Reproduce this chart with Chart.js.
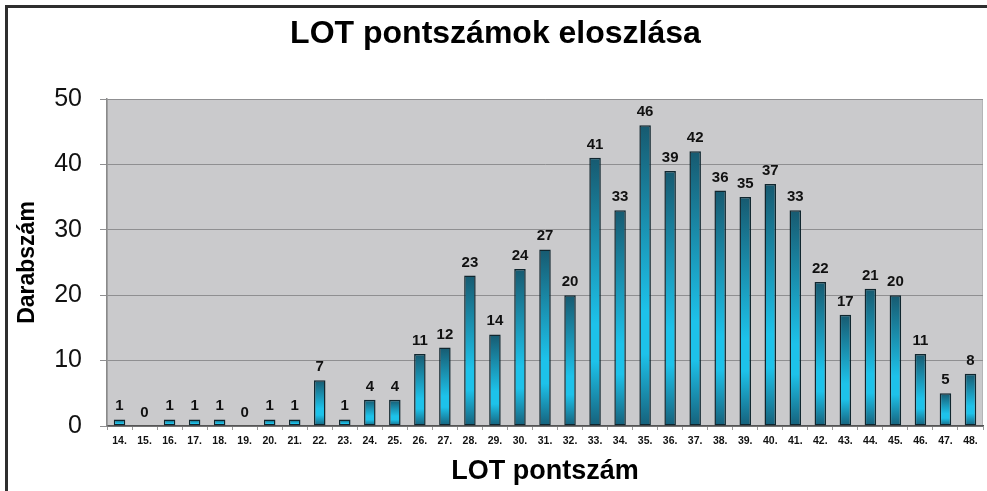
<!DOCTYPE html>
<html>
<head>
<meta charset="utf-8">
<script src="https://cdn.jsdelivr.net/npm/chart.js@4/dist/chart.umd.min.js"></script>
<style>
  html, body { margin: 0; padding: 0; background: #fff; }
  #wrap { position: relative; width: 987px; height: 491px; overflow: hidden; }
  #frame {
    position: absolute; left: 5px; top: 5px; width: 1100px; height: 600px;
    border-left: 3px solid #2e2e2e; border-top: 3px solid #2e2e2e;
  }
  #chart { position: absolute; left: 0; top: 0; }
</style>
</head>
<body>
<div id="wrap">
  <div id="frame"></div>
  <canvas id="chart" width="987" height="491"></canvas>
</div>
<script>
  const scores = ['14.', '15.', '16.', '17.', '18.', '19.', '20.', '21.', '22.', '23.', '24.', '25.',
    '26.', '27.', '28.', '29.', '30.', '31.', '32.', '33.', '34.', '35.', '36.', '37.', '38.',
    '39.', '40.', '41.', '42.', '43.', '44.', '45.', '46.', '47.', '48.'];
  const counts = [1, 0, 1, 1, 1, 0, 1, 1, 7, 1, 4, 4,
    11, 12, 23, 14, 24, 27, 20, 41, 33, 46, 39, 42, 36,
    35, 37, 33, 22, 17, 21, 20, 11, 5, 8];
  const yTicks = [0, 10, 20, 30, 40, 50];

  const fontFamily = '"Liberation Sans", Arial, sans-serif';

  // vertical gradient for each bar, dark top -> bright cyan -> dark bottom
  function barFill(context) {
    const chart = context.chart;
    const y = chart.scales.y;
    if (!chart.chartArea || !y) return '#1cc0e8';
    const top = y.getPixelForValue(counts[context.dataIndex]);
    const bottom = y.getPixelForValue(0);
    if (bottom - top < 2) return '#1cc0e8';
    const g = chart.ctx.createLinearGradient(0, top, 0, bottom);
    g.addColorStop(0, '#175a70');
    g.addColorStop(0.62, '#1dc2ea');
    g.addColorStop(0.76, '#1dc2ea');
    g.addColorStop(1, '#16607a');
    return g;
  }

  const plotBackground = {
    id: 'plotBackground',
    beforeDraw(chart) {
      const { ctx, chartArea: a } = chart;
      ctx.save();
      ctx.fillStyle = '#cacacc';
      ctx.fillRect(a.left, a.top, a.right - a.left, a.bottom - a.top);
      ctx.strokeStyle = '#b4b4b6';
      ctx.lineWidth = 1;
      ctx.strokeRect(a.left + 0.5, a.top + 0.5, a.right - a.left - 1, a.bottom - a.top);
      ctx.restore();
    }
  };

  const valueLabels = {
    id: 'valueLabels',
    afterDatasetsDraw(chart) {
      const { ctx } = chart;
      const meta = chart.getDatasetMeta(0);
      ctx.save();
      ctx.font = 'bold 15px ' + fontFamily;
      ctx.fillStyle = '#111';
      ctx.textAlign = 'center';
      ctx.textBaseline = 'alphabetic';
      meta.data.forEach((bar, i) => {
        ctx.fillText(String(counts[i]), bar.x, bar.y - 9);
      });
      ctx.restore();
    }
  };

  new Chart(document.getElementById('chart'), {
    type: 'bar',
    data: {
      labels: scores,
      datasets: [{
        data: counts,
        backgroundColor: barFill,
        borderColor: '#10262e',
        borderWidth: 1.5,
        borderSkipped: false,
        barPercentage: 0.46,
        categoryPercentage: 1
      }]
    },
    options: {
      responsive: false,
      animation: false,
      devicePixelRatio: 1,
      layout: { padding: { left: 8, right: 4, top: 0, bottom: 0 } },
      plugins: {
        legend: { display: false },
        tooltip: { enabled: false },
        title: {
          display: true,
          text: 'LOT pontszámok eloszlása',
          color: '#000',
          font: { family: fontFamily, size: 32, weight: 'bold', lineHeight: 1.2 },
          padding: { top: 15, bottom: 45.6 }
        }
      },
      scales: {
        x: {
          grid: {
            display: true,
            drawOnChartArea: false,
            drawTicks: true,
            tickLength: 4,
            color: '#9a9a9a',
            offset: true
          },
          border: { display: true, color: '#555', width: 1.5 },
          ticks: {
            color: '#111',
            padding: 5,
            autoSkip: false,
            maxRotation: 0,
            font: { family: fontFamily, size: 10.5, weight: 'bold' }
          },
          title: {
            display: true,
            text: 'LOT pontszám',
            color: '#000',
            font: { family: fontFamily, size: 27, weight: 'bold', lineHeight: 1.2 },
            padding: { top: 0, bottom: 3 }
          },
          afterFit(scale) { scale.height = 65; }
        },
        y: {
          min: 0,
          max: 50,
          afterBuildTicks(scale) { scale.ticks = yTicks.map((v) => ({ value: v })); },
          grid: {
            color: '#8f8f91',
            lineWidth: 1,
            tickLength: 7,
            drawTicks: true
          },
          border: { display: true, color: '#8a8a8a', width: 1.5 },
          ticks: {
            color: '#111',
            padding: 18,
            font: { family: fontFamily, size: 25 }
          },
          title: {
            display: true,
            text: 'Darabszám',
            color: '#000',
            font: { family: fontFamily, size: 23, weight: 'bold', lineHeight: 1.2 },
            padding: { top: 6, bottom: 0 }
          },
          afterFit(scale) { scale.width = 99; }
        }
      }
    },
    plugins: [plotBackground, valueLabels]
  });
</script>
</body>
</html>
